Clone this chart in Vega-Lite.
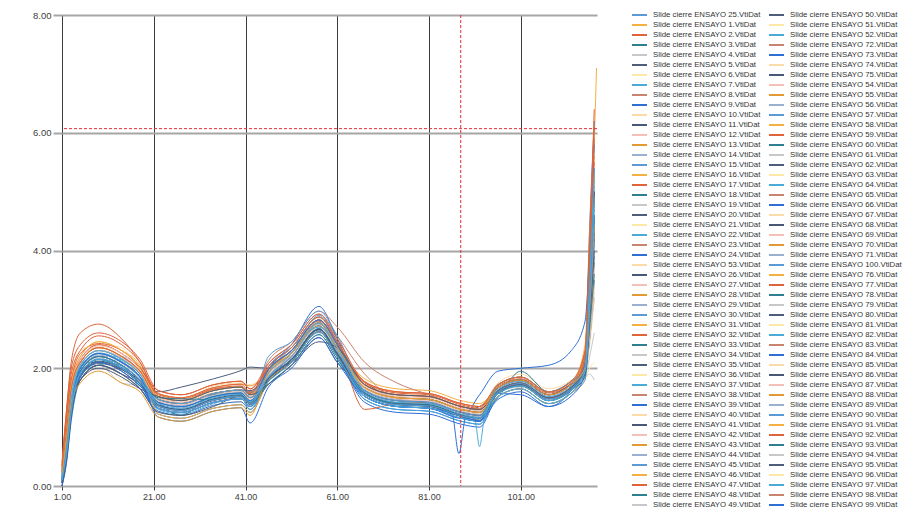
{
  "$schema": "https://vega.github.io/schema/vega-lite/v6.json",
  "width": 535,
  "height": 471,
  "autosize": "none",
  "padding": {"left": 62, "top": 15, "right": 314, "bottom": 30},
  "background": "#ffffff",
  "config": {
    "view": {"stroke": null},
    "font": "Liberation Sans",
    "axis": {"labelFont": "Liberation Sans", "labelColor": "#404040"},
    "legend": {"labelFont": "Liberation Sans"}
  },
  "datasets": {
    "a": [
      {"s":"25","x":1,"y":0.2},{"s":"25","x":2,"y":0.8},{"s":"25","x":3,"y":1.5},{"s":"25","x":5,"y":2.05},{"s":"25","x":9,"y":2.3},{"s":"25","x":14,"y":2.17},{"s":"25","x":18,"y":1.9},{"s":"25","x":22,"y":1.42},{"s":"25","x":27,"y":1.37},{"s":"25","x":34,"y":1.5},{"s":"25","x":40,"y":1.6},{"s":"25","x":42,"y":1.58},{"s":"25","x":46,"y":1.98},{"s":"25","x":51,"y":2.3},{"s":"25","x":57,"y":2.82},{"s":"25","x":61,"y":2.4},{"s":"25","x":67,"y":1.62},{"s":"25","x":74,"y":1.47},{"s":"25","x":81,"y":1.4},{"s":"25","x":88,"y":1.27},{"s":"25","x":92,"y":1.2},{"s":"25","x":96,"y":1.67},{"s":"25","x":101,"y":1.8},{"s":"25","x":107,"y":1.55},{"s":"25","x":112,"y":1.73},{"s":"25","x":115,"y":2.0},{"s":"25","x":116,"y":3.4},{"s":"25","x":117,"y":5.2},
      {"s":"1","x":1,"y":0.3},{"s":"1","x":2,"y":1.0},{"s":"1","x":3,"y":1.7},{"s":"1","x":5,"y":2.2},{"s":"1","x":9,"y":2.45},{"s":"1","x":14,"y":2.3},{"s":"1","x":18,"y":2.05},{"s":"1","x":22,"y":1.32},{"s":"1","x":27,"y":1.25},{"s":"1","x":34,"y":1.42},{"s":"1","x":40,"y":1.5},{"s":"1","x":42,"y":1.35},{"s":"1","x":46,"y":1.93},{"s":"1","x":51,"y":2.25},{"s":"1","x":57,"y":2.77},{"s":"1","x":61,"y":2.35},{"s":"1","x":67,"y":1.72},{"s":"1","x":74,"y":1.55},{"s":"1","x":81,"y":1.52},{"s":"1","x":88,"y":1.35},{"s":"1","x":92,"y":1.3},{"s":"1","x":96,"y":1.62},{"s":"1","x":101,"y":1.75},{"s":"1","x":107,"y":1.5},{"s":"1","x":112,"y":1.68},{"s":"1","x":115,"y":2.1},{"s":"1","x":116,"y":3.6},{"s":"1","x":117.5,"y":7.1},
      {"s":"2","x":1,"y":0.35},{"s":"2","x":2,"y":1.3},{"s":"2","x":3,"y":2.1},{"s":"2","x":5,"y":2.6},{"s":"2","x":9,"y":2.75},{"s":"2","x":14,"y":2.5},{"s":"2","x":18,"y":2.1},{"s":"2","x":22,"y":1.52},{"s":"2","x":27,"y":1.45},{"s":"2","x":34,"y":1.64},{"s":"2","x":40,"y":1.68},{"s":"2","x":42,"y":1.57},{"s":"2","x":46,"y":2.03},{"s":"2","x":51,"y":2.35},{"s":"2","x":57,"y":2.87},{"s":"2","x":61,"y":2.45},{"s":"2","x":67,"y":1.67},{"s":"2","x":74,"y":1.5},{"s":"2","x":81,"y":1.47},{"s":"2","x":88,"y":1.3},{"s":"2","x":92,"y":1.25},{"s":"2","x":96,"y":1.72},{"s":"2","x":101,"y":1.85},{"s":"2","x":107,"y":1.6},{"s":"2","x":112,"y":1.78},{"s":"2","x":115,"y":2.0},{"s":"2","x":116,"y":2.8},{"s":"2","x":117,"y":4.5},
      {"s":"3","x":1,"y":0.1},{"s":"3","x":2,"y":0.6},{"s":"3","x":3,"y":1.3},{"s":"3","x":5,"y":2.1},{"s":"3","x":9,"y":2.1},{"s":"3","x":14,"y":2.05},{"s":"3","x":18,"y":1.65},{"s":"3","x":22,"y":1.37},{"s":"3","x":27,"y":1.3},{"s":"3","x":34,"y":1.47},{"s":"3","x":40,"y":1.53},{"s":"3","x":42,"y":1.4},{"s":"3","x":46,"y":1.78},{"s":"3","x":51,"y":2.1},{"s":"3","x":57,"y":2.62},{"s":"3","x":61,"y":2.2},{"s":"3","x":67,"y":1.57},{"s":"3","x":74,"y":1.4},{"s":"3","x":81,"y":1.37},{"s":"3","x":88,"y":1.2},{"s":"3","x":92,"y":1.15},{"s":"3","x":96,"y":1.62},{"s":"3","x":101,"y":1.75},{"s":"3","x":107,"y":1.5},{"s":"3","x":112,"y":1.68},{"s":"3","x":115,"y":1.9},{"s":"3","x":116,"y":2.6},{"s":"3","x":117,"y":3.8},
      {"s":"4","x":1,"y":0.25},{"s":"4","x":2,"y":0.8},{"s":"4","x":3,"y":1.4},{"s":"4","x":5,"y":2.0},{"s":"4","x":9,"y":2.05},{"s":"4","x":14,"y":1.75},{"s":"4","x":18,"y":1.7},{"s":"4","x":22,"y":1.47},{"s":"4","x":27,"y":1.4},{"s":"4","x":34,"y":1.57},{"s":"4","x":40,"y":1.63},{"s":"4","x":42,"y":1.5},{"s":"4","x":46,"y":1.88},{"s":"4","x":51,"y":2.2},{"s":"4","x":57,"y":2.72},{"s":"4","x":61,"y":2.3},{"s":"4","x":67,"y":1.72},{"s":"4","x":74,"y":1.55},{"s":"4","x":81,"y":1.52},{"s":"4","x":88,"y":1.35},{"s":"4","x":92,"y":1.3},{"s":"4","x":96,"y":1.57},{"s":"4","x":101,"y":1.7},{"s":"4","x":107,"y":1.45},{"s":"4","x":112,"y":1.63},{"s":"4","x":115,"y":1.85},{"s":"4","x":116,"y":1.9},{"s":"4","x":117,"y":1.8},
      {"s":"5","x":1,"y":0.1},{"s":"5","x":2,"y":0.5},{"s":"5","x":3,"y":1.2},{"s":"5","x":5,"y":1.85},{"s":"5","x":9,"y":2.1},{"s":"5","x":14,"y":1.95},{"s":"5","x":18,"y":1.7},{"s":"5","x":22,"y":1.42},{"s":"5","x":27,"y":1.35},{"s":"5","x":34,"y":1.52},{"s":"5","x":40,"y":1.58},{"s":"5","x":42,"y":1.45},{"s":"5","x":46,"y":1.83},{"s":"5","x":51,"y":2.15},{"s":"5","x":57,"y":2.67},{"s":"5","x":61,"y":2.25},{"s":"5","x":67,"y":1.77},{"s":"5","x":74,"y":1.48},{"s":"5","x":81,"y":1.42},{"s":"5","x":88,"y":1.28},{"s":"5","x":92,"y":1.35},{"s":"5","x":96,"y":1.67},{"s":"5","x":101,"y":1.8},{"s":"5","x":107,"y":1.55},{"s":"5","x":112,"y":1.73},{"s":"5","x":115,"y":2.0},{"s":"5","x":116,"y":3.6},{"s":"5","x":117,"y":5.0},
      {"s":"6","x":1,"y":0.3},{"s":"6","x":2,"y":0.9},{"s":"6","x":3,"y":1.6},{"s":"6","x":5,"y":2.1},{"s":"6","x":9,"y":2.35},{"s":"6","x":14,"y":1.8},{"s":"6","x":18,"y":1.78},{"s":"6","x":22,"y":1.27},{"s":"6","x":27,"y":1.2},{"s":"6","x":34,"y":1.37},{"s":"6","x":40,"y":1.43},{"s":"6","x":42,"y":1.3},{"s":"6","x":46,"y":1.98},{"s":"6","x":51,"y":2.3},{"s":"6","x":57,"y":2.82},{"s":"6","x":61,"y":2.4},{"s":"6","x":67,"y":1.62},{"s":"6","x":74,"y":1.45},{"s":"6","x":81,"y":1.42},{"s":"6","x":88,"y":1.25},{"s":"6","x":92,"y":1.2},{"s":"6","x":96,"y":1.52},{"s":"6","x":101,"y":1.65},{"s":"6","x":107,"y":1.4},{"s":"6","x":112,"y":1.58},{"s":"6","x":115,"y":1.8},{"s":"6","x":116,"y":2.0},{"s":"6","x":117,"y":2.1},
      {"s":"7","x":1,"y":0.05},{"s":"7","x":2,"y":0.5},{"s":"7","x":3,"y":1.3},{"s":"7","x":5,"y":1.95},{"s":"7","x":9,"y":2.05},{"s":"7","x":14,"y":2.15},{"s":"7","x":18,"y":1.95},{"s":"7","x":22,"y":1.32},{"s":"7","x":27,"y":1.25},{"s":"7","x":34,"y":1.42},{"s":"7","x":40,"y":1.48},{"s":"7","x":42,"y":1.35},{"s":"7","x":46,"y":1.73},{"s":"7","x":51,"y":2.05},{"s":"7","x":57,"y":2.57},{"s":"7","x":61,"y":2.15},{"s":"7","x":67,"y":1.52},{"s":"7","x":74,"y":1.35},{"s":"7","x":81,"y":1.32},{"s":"7","x":88,"y":1.15},{"s":"7","x":92,"y":1.1},{"s":"7","x":96,"y":1.67},{"s":"7","x":101,"y":1.8},{"s":"7","x":107,"y":1.55},{"s":"7","x":112,"y":1.73},{"s":"7","x":115,"y":2.1},{"s":"7","x":116,"y":3.2},{"s":"7","x":117,"y":4.6},
      {"s":"8","x":1,"y":0.2},{"s":"8","x":2,"y":0.9},{"s":"8","x":3,"y":1.6},{"s":"8","x":5,"y":2.15},{"s":"8","x":9,"y":2.4},{"s":"8","x":14,"y":2.25},{"s":"8","x":18,"y":2.0},{"s":"8","x":22,"y":1.52},{"s":"8","x":27,"y":1.45},{"s":"8","x":34,"y":1.62},{"s":"8","x":40,"y":1.68},{"s":"8","x":42,"y":1.55},{"s":"8","x":46,"y":2.08},{"s":"8","x":51,"y":2.4},{"s":"8","x":57,"y":2.92},{"s":"8","x":61,"y":2.55},{"s":"8","x":67,"y":1.9},{"s":"8","x":74,"y":1.5},{"s":"8","x":81,"y":1.47},{"s":"8","x":88,"y":1.3},{"s":"8","x":92,"y":1.25},{"s":"8","x":96,"y":1.62},{"s":"8","x":101,"y":1.75},{"s":"8","x":107,"y":1.5},{"s":"8","x":112,"y":1.68},{"s":"8","x":115,"y":2.0},{"s":"8","x":116,"y":3.0},{"s":"8","x":117,"y":4.2},
      {"s":"9","x":1,"y":0.0},{"s":"9","x":2,"y":0.4},{"s":"9","x":3,"y":1.1},{"s":"9","x":5,"y":1.8},{"s":"9","x":9,"y":2.05},{"s":"9","x":14,"y":1.9},{"s":"9","x":18,"y":1.65},{"s":"9","x":22,"y":1.27},{"s":"9","x":27,"y":1.2},{"s":"9","x":34,"y":1.37},{"s":"9","x":40,"y":1.43},{"s":"9","x":42,"y":1.3},{"s":"9","x":46,"y":1.78},{"s":"9","x":51,"y":2.1},{"s":"9","x":57,"y":2.62},{"s":"9","x":61,"y":2.2},{"s":"9","x":67,"y":1.47},{"s":"9","x":74,"y":1.3},{"s":"9","x":81,"y":1.27},{"s":"9","x":88,"y":1.1},{"s":"9","x":92,"y":1.05},{"s":"9","x":96,"y":1.57},{"s":"9","x":101,"y":1.7},{"s":"9","x":107,"y":1.45},{"s":"9","x":112,"y":1.63},{"s":"9","x":115,"y":2.2},{"s":"9","x":116,"y":4.4},{"s":"9","x":117,"y":6.2},
      {"s":"10","x":1,"y":0.3},{"s":"10","x":2,"y":1.1},{"s":"10","x":3,"y":1.8},{"s":"10","x":5,"y":2.3},{"s":"10","x":9,"y":2.4},{"s":"10","x":14,"y":2.35},{"s":"10","x":18,"y":1.95},{"s":"10","x":22,"y":1.55},{"s":"10","x":27,"y":1.45},{"s":"10","x":34,"y":1.7},{"s":"10","x":40,"y":1.75},{"s":"10","x":42,"y":1.72},{"s":"10","x":46,"y":1.95},{"s":"10","x":51,"y":2.35},{"s":"10","x":57,"y":2.85},{"s":"10","x":61,"y":2.5},{"s":"10","x":67,"y":1.75},{"s":"10","x":74,"y":1.6},{"s":"10","x":81,"y":1.5},{"s":"10","x":88,"y":1.4},{"s":"10","x":92,"y":1.35},{"s":"10","x":96,"y":1.75},{"s":"10","x":101,"y":1.9},{"s":"10","x":107,"y":1.65},{"s":"10","x":112,"y":1.8},{"s":"10","x":115,"y":2.0},{"s":"10","x":116,"y":2.4},{"s":"10","x":117,"y":3.2},
      {"s":"12","x":1,"y":0.2},{"s":"12","x":2,"y":0.8},{"s":"12","x":3,"y":1.5},{"s":"12","x":5,"y":2.05},{"s":"12","x":9,"y":2.3},{"s":"12","x":14,"y":2.15},{"s":"12","x":18,"y":1.9},{"s":"12","x":22,"y":1.47},{"s":"12","x":27,"y":1.4},{"s":"12","x":34,"y":1.57},{"s":"12","x":40,"y":1.6},{"s":"12","x":42,"y":1.62},{"s":"12","x":46,"y":1.83},{"s":"12","x":51,"y":2.15},{"s":"12","x":57,"y":2.67},{"s":"12","x":61,"y":2.25},{"s":"12","x":67,"y":1.67},{"s":"12","x":74,"y":1.5},{"s":"12","x":81,"y":1.47},{"s":"12","x":88,"y":1.3},{"s":"12","x":92,"y":1.25},{"s":"12","x":96,"y":1.67},{"s":"12","x":101,"y":1.8},{"s":"12","x":107,"y":1.55},{"s":"12","x":112,"y":1.73},{"s":"12","x":115,"y":1.9},{"s":"12","x":116,"y":2.5},{"s":"12","x":117,"y":3.3},
      {"s":"13","x":1,"y":0.25},{"s":"13","x":2,"y":1.0},{"s":"13","x":3,"y":1.7},{"s":"13","x":5,"y":2.1},{"s":"13","x":9,"y":2.35},{"s":"13","x":14,"y":2.2},{"s":"13","x":18,"y":1.95},{"s":"13","x":22,"y":1.57},{"s":"13","x":27,"y":1.5},{"s":"13","x":34,"y":1.67},{"s":"13","x":40,"y":1.73},{"s":"13","x":42,"y":1.7},{"s":"13","x":46,"y":1.93},{"s":"13","x":51,"y":2.25},{"s":"13","x":57,"y":2.77},{"s":"13","x":61,"y":2.35},{"s":"13","x":67,"y":1.72},{"s":"13","x":74,"y":1.55},{"s":"13","x":81,"y":1.52},{"s":"13","x":88,"y":1.35},{"s":"13","x":92,"y":1.3},{"s":"13","x":96,"y":1.72},{"s":"13","x":101,"y":1.85},{"s":"13","x":107,"y":1.6},{"s":"13","x":112,"y":1.78},{"s":"13","x":115,"y":2.1},{"s":"13","x":116,"y":3.8},{"s":"13","x":117,"y":5.6},
      {"s":"14","x":1,"y":0.15},{"s":"14","x":2,"y":0.75},{"s":"14","x":3,"y":1.45},{"s":"14","x":5,"y":2.05},{"s":"14","x":9,"y":2.2},{"s":"14","x":14,"y":2.2},{"s":"14","x":18,"y":1.9},{"s":"14","x":22,"y":1.45},{"s":"14","x":27,"y":1.33},{"s":"14","x":34,"y":1.55},{"s":"14","x":40,"y":1.62},{"s":"14","x":42,"y":1.5},{"s":"14","x":46,"y":1.95},{"s":"14","x":51,"y":2.28},{"s":"14","x":57,"y":2.65},{"s":"14","x":61,"y":2.35},{"s":"14","x":67,"y":1.65},{"s":"14","x":74,"y":1.42},{"s":"14","x":81,"y":1.38},{"s":"14","x":88,"y":1.22},{"s":"14","x":92,"y":1.18},{"s":"14","x":96,"y":1.6},{"s":"14","x":101,"y":1.72},{"s":"14","x":107,"y":1.48},{"s":"14","x":112,"y":1.7},{"s":"14","x":115,"y":2.05},{"s":"14","x":116,"y":3.2},{"s":"14","x":117,"y":4.3},
      {"s":"15","x":1,"y":0.1},{"s":"15","x":2,"y":0.6},{"s":"15","x":3,"y":1.3},{"s":"15","x":5,"y":1.9},{"s":"15","x":9,"y":2.15},{"s":"15","x":14,"y":2.0},{"s":"15","x":18,"y":1.75},{"s":"15","x":22,"y":1.37},{"s":"15","x":27,"y":1.3},{"s":"15","x":34,"y":1.47},{"s":"15","x":40,"y":1.53},{"s":"15","x":42,"y":1.4},{"s":"15","x":46,"y":2.03},{"s":"15","x":51,"y":2.35},{"s":"15","x":57,"y":2.87},{"s":"15","x":61,"y":2.45},{"s":"15","x":67,"y":1.57},{"s":"15","x":74,"y":1.4},{"s":"15","x":81,"y":1.37},{"s":"15","x":88,"y":1.2},{"s":"15","x":92,"y":1.15},{"s":"15","x":96,"y":1.52},{"s":"15","x":101,"y":1.65},{"s":"15","x":107,"y":1.4},{"s":"15","x":112,"y":1.58},{"s":"15","x":115,"y":1.8},{"s":"15","x":116,"y":2.9},{"s":"15","x":117,"y":4.1},
      {"s":"17","x":1,"y":0.3},{"s":"17","x":2,"y":1.1},{"s":"17","x":3,"y":1.8},{"s":"17","x":5,"y":2.15},{"s":"17","x":9,"y":2.4},{"s":"17","x":14,"y":2.25},{"s":"17","x":18,"y":2.0},{"s":"17","x":22,"y":1.62},{"s":"17","x":27,"y":1.55},{"s":"17","x":34,"y":1.72},{"s":"17","x":40,"y":1.78},{"s":"17","x":42,"y":1.65},{"s":"17","x":46,"y":1.98},{"s":"17","x":51,"y":2.3},{"s":"17","x":57,"y":2.82},{"s":"17","x":61,"y":2.4},{"s":"17","x":67,"y":1.77},{"s":"17","x":74,"y":1.6},{"s":"17","x":81,"y":1.57},{"s":"17","x":88,"y":1.4},{"s":"17","x":92,"y":1.35},{"s":"17","x":96,"y":1.67},{"s":"17","x":101,"y":1.8},{"s":"17","x":107,"y":1.55},{"s":"17","x":112,"y":1.73},{"s":"17","x":115,"y":2.3},{"s":"17","x":116,"y":4.0},{"s":"17","x":117,"y":5.5},
      {"s":"18","x":1,"y":0.15},{"s":"18","x":2,"y":0.7},{"s":"18","x":3,"y":1.4},{"s":"18","x":5,"y":2.0},{"s":"18","x":9,"y":2.25},{"s":"18","x":14,"y":2.1},{"s":"18","x":18,"y":1.85},{"s":"18","x":22,"y":1.37},{"s":"18","x":27,"y":1.3},{"s":"18","x":34,"y":1.47},{"s":"18","x":40,"y":1.53},{"s":"18","x":42,"y":1.55},{"s":"18","x":46,"y":1.88},{"s":"18","x":51,"y":2.2},{"s":"18","x":57,"y":2.72},{"s":"18","x":61,"y":2.3},{"s":"18","x":67,"y":1.57},{"s":"18","x":74,"y":1.4},{"s":"18","x":81,"y":1.37},{"s":"18","x":88,"y":1.2},{"s":"18","x":92,"y":1.15},{"s":"18","x":96,"y":1.62},{"s":"18","x":101,"y":1.75},{"s":"18","x":107,"y":1.5},{"s":"18","x":112,"y":1.68},{"s":"18","x":115,"y":1.9},{"s":"18","x":116,"y":3.1},{"s":"18","x":117,"y":4.4},
      {"s":"19","x":1,"y":0.2},{"s":"19","x":2,"y":0.7},{"s":"19","x":3,"y":1.35},{"s":"19","x":5,"y":1.95},{"s":"19","x":9,"y":2.18},{"s":"19","x":14,"y":2.0},{"s":"19","x":18,"y":1.8},{"s":"19","x":22,"y":1.5},{"s":"19","x":27,"y":1.42},{"s":"19","x":34,"y":1.55},{"s":"19","x":40,"y":1.55},{"s":"19","x":42,"y":1.52},{"s":"19","x":46,"y":1.85},{"s":"19","x":51,"y":2.15},{"s":"19","x":57,"y":2.6},{"s":"19","x":61,"y":2.28},{"s":"19","x":67,"y":1.7},{"s":"19","x":74,"y":1.52},{"s":"19","x":81,"y":1.45},{"s":"19","x":88,"y":1.32},{"s":"19","x":92,"y":1.28},{"s":"19","x":96,"y":1.58},{"s":"19","x":101,"y":1.68},{"s":"19","x":107,"y":1.5},{"s":"19","x":112,"y":1.65},{"s":"19","x":115,"y":1.85},{"s":"19","x":116,"y":2.2},{"s":"19","x":117,"y":2.6},
      {"s":"20","x":1,"y":0.1},{"s":"20","x":2,"y":0.6},{"s":"20","x":3,"y":1.3},{"s":"20","x":5,"y":1.8},{"s":"20","x":9,"y":2.05},{"s":"20","x":14,"y":1.9},{"s":"20","x":18,"y":1.75},{"s":"20","x":22,"y":1.6},{"s":"20","x":27,"y":1.68},{"s":"20","x":34,"y":1.82},{"s":"20","x":40,"y":1.96},{"s":"20","x":42,"y":2.02},{"s":"20","x":46,"y":2.0},{"s":"20","x":51,"y":2.1},{"s":"20","x":57,"y":2.52},{"s":"20","x":61,"y":2.1},{"s":"20","x":67,"y":1.67},{"s":"20","x":74,"y":1.5},{"s":"20","x":81,"y":1.47},{"s":"20","x":88,"y":1.3},{"s":"20","x":92,"y":1.25},{"s":"20","x":96,"y":1.62},{"s":"20","x":101,"y":1.75},{"s":"20","x":107,"y":1.5},{"s":"20","x":112,"y":1.68},{"s":"20","x":115,"y":2.0},{"s":"20","x":116,"y":2.5},{"s":"20","x":117,"y":3.5},
      {"s":"22","x":1,"y":0.05},{"s":"22","x":2,"y":0.45},{"s":"22","x":3,"y":1.15},{"s":"22","x":5,"y":1.85},{"s":"22","x":9,"y":2.12},{"s":"22","x":14,"y":2.02},{"s":"22","x":18,"y":1.72},{"s":"22","x":22,"y":1.3},{"s":"22","x":27,"y":1.22},{"s":"22","x":34,"y":1.4},{"s":"22","x":40,"y":1.5},{"s":"22","x":42,"y":1.3},{"s":"22","x":46,"y":1.9},{"s":"22","x":51,"y":2.25},{"s":"22","x":57,"y":2.9},{"s":"22","x":61,"y":2.45},{"s":"22","x":67,"y":1.58},{"s":"22","x":74,"y":1.38},{"s":"22","x":81,"y":1.35},{"s":"22","x":88,"y":1.18},{"s":"22","x":92,"y":1.1},{"s":"22","x":96,"y":1.6},{"s":"22","x":101,"y":1.78},{"s":"22","x":107,"y":1.45},{"s":"22","x":112,"y":1.62},{"s":"22","x":115,"y":2.05},{"s":"22","x":116,"y":3.7},{"s":"22","x":117,"y":5.3},
      {"s":"24","x":1,"y":0.05},{"s":"24","x":2,"y":0.5},{"s":"24","x":3,"y":1.2},{"s":"24","x":5,"y":1.9},{"s":"24","x":9,"y":2.15},{"s":"24","x":14,"y":2.0},{"s":"24","x":18,"y":1.75},{"s":"24","x":22,"y":1.22},{"s":"24","x":27,"y":1.15},{"s":"24","x":34,"y":1.32},{"s":"24","x":40,"y":1.38},{"s":"24","x":42,"y":1.25},{"s":"24","x":46,"y":1.78},{"s":"24","x":51,"y":2.1},{"s":"24","x":57,"y":2.62},{"s":"24","x":61,"y":2.2},{"s":"24","x":67,"y":1.42},{"s":"24","x":74,"y":1.25},{"s":"24","x":81,"y":1.22},{"s":"24","x":88,"y":1.05},{"s":"24","x":92,"y":1.0},{"s":"24","x":96,"y":1.52},{"s":"24","x":101,"y":1.65},{"s":"24","x":107,"y":1.4},{"s":"24","x":112,"y":1.58},{"s":"24","x":115,"y":2.0},{"s":"24","x":116,"y":3.3},{"s":"24","x":117,"y":4.8},
      {"s":"27","x":1,"y":0.3},{"s":"27","x":2,"y":0.95},{"s":"27","x":3,"y":1.65},{"s":"27","x":5,"y":2.15},{"s":"27","x":9,"y":2.38},{"s":"27","x":14,"y":2.25},{"s":"27","x":18,"y":1.98},{"s":"27","x":22,"y":1.5},{"s":"27","x":27,"y":1.42},{"s":"27","x":34,"y":1.58},{"s":"27","x":40,"y":1.6},{"s":"27","x":42,"y":1.55},{"s":"27","x":46,"y":1.92},{"s":"27","x":51,"y":2.22},{"s":"27","x":57,"y":2.7},{"s":"27","x":61,"y":2.3},{"s":"27","x":67,"y":1.7},{"s":"27","x":74,"y":1.52},{"s":"27","x":81,"y":1.5},{"s":"27","x":88,"y":1.32},{"s":"27","x":92,"y":1.28},{"s":"27","x":96,"y":1.7},{"s":"27","x":101,"y":1.82},{"s":"27","x":107,"y":1.58},{"s":"27","x":112,"y":1.72},{"s":"27","x":115,"y":1.95},{"s":"27","x":116,"y":2.6},{"s":"27","x":117,"y":3.4},
      {"s":"31","x":1,"y":0.2},{"s":"31","x":2,"y":0.9},{"s":"31","x":3,"y":1.6},{"s":"31","x":5,"y":2.05},{"s":"31","x":9,"y":2.3},{"s":"31","x":14,"y":2.15},{"s":"31","x":18,"y":1.9},{"s":"31","x":22,"y":1.52},{"s":"31","x":27,"y":1.45},{"s":"31","x":34,"y":1.62},{"s":"31","x":40,"y":1.68},{"s":"31","x":42,"y":1.55},{"s":"31","x":46,"y":1.93},{"s":"31","x":51,"y":2.25},{"s":"31","x":57,"y":2.77},{"s":"31","x":61,"y":2.35},{"s":"31","x":67,"y":1.82},{"s":"31","x":74,"y":1.65},{"s":"31","x":81,"y":1.62},{"s":"31","x":88,"y":1.45},{"s":"31","x":92,"y":1.4},{"s":"31","x":96,"y":1.67},{"s":"31","x":101,"y":1.8},{"s":"31","x":107,"y":1.55},{"s":"31","x":112,"y":1.73},{"s":"31","x":115,"y":2.4},{"s":"31","x":116,"y":4.3},{"s":"31","x":117,"y":6.0},
      {"s":"33","x":1,"y":0.1},{"s":"33","x":2,"y":0.6},{"s":"33","x":3,"y":1.3},{"s":"33","x":5,"y":1.95},{"s":"33","x":9,"y":2.2},{"s":"33","x":14,"y":2.05},{"s":"33","x":18,"y":1.8},{"s":"33","x":22,"y":1.42},{"s":"33","x":27,"y":1.35},{"s":"33","x":34,"y":1.52},{"s":"33","x":40,"y":1.58},{"s":"33","x":42,"y":1.45},{"s":"33","x":46,"y":1.83},{"s":"33","x":51,"y":2.15},{"s":"33","x":57,"y":2.67},{"s":"33","x":61,"y":2.25},{"s":"33","x":67,"y":1.62},{"s":"33","x":74,"y":1.45},{"s":"33","x":81,"y":1.42},{"s":"33","x":88,"y":1.25},{"s":"33","x":92,"y":1.2},{"s":"33","x":96,"y":1.5},{"s":"33","x":101,"y":1.95},{"s":"33","x":107,"y":1.6},{"s":"33","x":112,"y":1.78},{"s":"33","x":115,"y":2.0},{"s":"33","x":116,"y":2.7},{"s":"33","x":117,"y":3.9},
      {"s":"35","x":1,"y":0.0},{"s":"35","x":2,"y":0.45},{"s":"35","x":3,"y":1.2},{"s":"35","x":5,"y":1.9},{"s":"35","x":9,"y":2.08},{"s":"35","x":14,"y":1.98},{"s":"35","x":18,"y":1.78},{"s":"35","x":22,"y":1.35},{"s":"35","x":27,"y":1.28},{"s":"35","x":34,"y":1.45},{"s":"35","x":40,"y":1.52},{"s":"35","x":42,"y":1.38},{"s":"35","x":46,"y":1.8},{"s":"35","x":51,"y":2.12},{"s":"35","x":57,"y":2.65},{"s":"35","x":61,"y":2.22},{"s":"35","x":67,"y":1.55},{"s":"35","x":74,"y":1.38},{"s":"35","x":81,"y":1.35},{"s":"35","x":88,"y":1.18},{"s":"35","x":92,"y":1.12},{"s":"35","x":96,"y":1.58},{"s":"35","x":101,"y":1.72},{"s":"35","x":107,"y":1.48},{"s":"35","x":112,"y":1.65},{"s":"35","x":115,"y":1.95},{"s":"35","x":116,"y":3.0},{"s":"35","x":117,"y":4.6},
      {"s":"39","x":1,"y":0.0},{"s":"39","x":2,"y":0.5},{"s":"39","x":3,"y":1.2},{"s":"39","x":5,"y":1.85},{"s":"39","x":9,"y":2.1},{"s":"39","x":14,"y":1.95},{"s":"39","x":18,"y":1.7},{"s":"39","x":22,"y":1.32},{"s":"39","x":27,"y":1.25},{"s":"39","x":34,"y":1.42},{"s":"39","x":40,"y":1.48},{"s":"39","x":42,"y":1.35},{"s":"39","x":46,"y":1.98},{"s":"39","x":51,"y":2.4},{"s":"39","x":57,"y":3.05},{"s":"39","x":61,"y":2.5},{"s":"39","x":67,"y":1.52},{"s":"39","x":74,"y":1.35},{"s":"39","x":81,"y":1.32},{"s":"39","x":88,"y":1.15},{"s":"39","x":92,"y":1.55},{"s":"39","x":96,"y":1.95},{"s":"39","x":101,"y":2.0},{"s":"39","x":107,"y":2.05},{"s":"39","x":112,"y":2.3},{"s":"39","x":115,"y":2.8},{"s":"39","x":116,"y":4.0},{"s":"39","x":117,"y":5.8},
      {"s":"44","x":1,"y":0.12},{"s":"44","x":2,"y":0.62},{"s":"44","x":3,"y":1.32},{"s":"44","x":5,"y":1.98},{"s":"44","x":9,"y":2.22},{"s":"44","x":14,"y":2.12},{"s":"44","x":18,"y":1.82},{"s":"44","x":22,"y":1.4},{"s":"44","x":27,"y":1.3},{"s":"44","x":34,"y":1.5},{"s":"44","x":40,"y":1.55},{"s":"44","x":42,"y":1.42},{"s":"44","x":46,"y":1.86},{"s":"44","x":51,"y":2.18},{"s":"44","x":57,"y":2.75},{"s":"44","x":61,"y":2.32},{"s":"44","x":67,"y":1.6},{"s":"44","x":74,"y":1.42},{"s":"44","x":81,"y":1.4},{"s":"44","x":88,"y":1.22},{"s":"44","x":92,"y":1.17},{"s":"44","x":96,"y":1.64},{"s":"44","x":101,"y":1.78},{"s":"44","x":107,"y":1.52},{"s":"44","x":112,"y":1.7},{"s":"44","x":115,"y":2.0},{"s":"44","x":116,"y":3.3},{"s":"44","x":117,"y":4.9},
      {"s":"47","x":1,"y":0.3},{"s":"47","x":2,"y":1.05},{"s":"47","x":3,"y":1.75},{"s":"47","x":5,"y":2.25},{"s":"47","x":9,"y":2.42},{"s":"47","x":14,"y":2.3},{"s":"47","x":18,"y":2.02},{"s":"47","x":22,"y":1.55},{"s":"47","x":27,"y":1.48},{"s":"47","x":34,"y":1.65},{"s":"47","x":40,"y":1.7},{"s":"47","x":42,"y":1.58},{"s":"47","x":46,"y":2.0},{"s":"47","x":51,"y":2.3},{"s":"47","x":57,"y":2.8},{"s":"47","x":61,"y":2.42},{"s":"47","x":67,"y":1.75},{"s":"47","x":74,"y":1.58},{"s":"47","x":81,"y":1.55},{"s":"47","x":88,"y":1.38},{"s":"47","x":92,"y":1.32},{"s":"47","x":96,"y":1.7},{"s":"47","x":101,"y":1.82},{"s":"47","x":107,"y":1.58},{"s":"47","x":112,"y":1.75},{"s":"47","x":115,"y":2.25},{"s":"47","x":116,"y":4.2},{"s":"47","x":117,"y":6.1}
    ],
    "b": [
      {"s":"50","x":1,"y":0.15},{"s":"50","x":2,"y":0.7},{"s":"50","x":3,"y":1.4},{"s":"50","x":5,"y":1.95},{"s":"50","x":9,"y":2.2},{"s":"50","x":14,"y":2.05},{"s":"50","x":18,"y":1.8},{"s":"50","x":22,"y":1.47},{"s":"50","x":27,"y":1.4},{"s":"50","x":34,"y":1.57},{"s":"50","x":40,"y":1.63},{"s":"50","x":42,"y":1.62},{"s":"50","x":46,"y":1.88},{"s":"50","x":51,"y":2.2},{"s":"50","x":57,"y":2.72},{"s":"50","x":61,"y":2.3},{"s":"50","x":67,"y":1.67},{"s":"50","x":74,"y":1.5},{"s":"50","x":81,"y":1.47},{"s":"50","x":88,"y":1.3},{"s":"50","x":92,"y":1.25},{"s":"50","x":96,"y":1.62},{"s":"50","x":101,"y":1.75},{"s":"50","x":107,"y":1.5},{"s":"50","x":112,"y":1.68},{"s":"50","x":115,"y":1.9},{"s":"50","x":116,"y":3.0},{"s":"50","x":117,"y":4.3},
      {"s":"52","x":1,"y":0.2},{"s":"52","x":2,"y":0.8},{"s":"52","x":3,"y":1.5},{"s":"52","x":5,"y":2.05},{"s":"52","x":9,"y":2.3},{"s":"52","x":14,"y":2.15},{"s":"52","x":18,"y":1.9},{"s":"52","x":22,"y":1.37},{"s":"52","x":27,"y":1.3},{"s":"52","x":34,"y":1.47},{"s":"52","x":40,"y":1.53},{"s":"52","x":42,"y":1.4},{"s":"52","x":46,"y":1.98},{"s":"52","x":51,"y":2.3},{"s":"52","x":57,"y":2.82},{"s":"52","x":61,"y":2.4},{"s":"52","x":67,"y":1.57},{"s":"52","x":74,"y":1.4},{"s":"52","x":81,"y":1.37},{"s":"52","x":88,"y":1.2},{"s":"52","x":92,"y":1.15},{"s":"52","x":96,"y":1.67},{"s":"52","x":101,"y":1.8},{"s":"52","x":107,"y":1.55},{"s":"52","x":112,"y":1.73},{"s":"52","x":115,"y":2.0},{"s":"52","x":116,"y":3.5},{"s":"52","x":117,"y":5.1},
      {"s":"72","x":1,"y":0.25},{"s":"72","x":2,"y":0.9},{"s":"72","x":3,"y":1.6},{"s":"72","x":5,"y":2.1},{"s":"72","x":9,"y":2.35},{"s":"72","x":14,"y":2.2},{"s":"72","x":18,"y":1.95},{"s":"72","x":22,"y":1.47},{"s":"72","x":27,"y":1.4},{"s":"72","x":34,"y":1.57},{"s":"72","x":40,"y":1.63},{"s":"72","x":42,"y":1.5},{"s":"72","x":46,"y":2.13},{"s":"72","x":51,"y":2.45},{"s":"72","x":57,"y":2.97},{"s":"72","x":61,"y":2.7},{"s":"72","x":67,"y":2.1},{"s":"72","x":74,"y":1.75},{"s":"72","x":81,"y":1.55},{"s":"72","x":88,"y":1.35},{"s":"72","x":92,"y":1.3},{"s":"72","x":96,"y":1.62},{"s":"72","x":101,"y":1.75},{"s":"72","x":107,"y":1.5},{"s":"72","x":112,"y":1.68},{"s":"72","x":115,"y":1.95},{"s":"72","x":116,"y":2.9},{"s":"72","x":117,"y":4.0},
      {"s":"73","x":1,"y":0.05},{"s":"73","x":2,"y":0.55},{"s":"73","x":3,"y":1.25},{"s":"73","x":5,"y":1.9},{"s":"73","x":9,"y":2.15},{"s":"73","x":14,"y":2.0},{"s":"73","x":18,"y":1.75},{"s":"73","x":22,"y":1.32},{"s":"73","x":27,"y":1.25},{"s":"73","x":34,"y":1.42},{"s":"73","x":40,"y":1.48},{"s":"73","x":42,"y":1.35},{"s":"73","x":46,"y":1.83},{"s":"73","x":51,"y":2.15},{"s":"73","x":57,"y":2.67},{"s":"73","x":61,"y":2.25},{"s":"73","x":67,"y":1.52},{"s":"73","x":74,"y":1.35},{"s":"73","x":81,"y":1.32},{"s":"73","x":88,"y":1.15},{"s":"73","x":92,"y":1.1},{"s":"73","x":96,"y":1.57},{"s":"73","x":101,"y":1.55},{"s":"73","x":107,"y":1.35},{"s":"73","x":112,"y":1.63},{"s":"73","x":115,"y":2.1},{"s":"73","x":116,"y":3.9},{"s":"73","x":117,"y":5.4},
      {"s":"54","x":1,"y":0.22},{"s":"54","x":2,"y":0.82},{"s":"54","x":3,"y":1.52},{"s":"54","x":5,"y":2.08},{"s":"54","x":9,"y":2.3},{"s":"54","x":14,"y":2.18},{"s":"54","x":18,"y":1.92},{"s":"54","x":22,"y":1.45},{"s":"54","x":27,"y":1.38},{"s":"54","x":34,"y":1.55},{"s":"54","x":40,"y":1.6},{"s":"54","x":42,"y":1.48},{"s":"54","x":46,"y":1.9},{"s":"54","x":51,"y":2.2},{"s":"54","x":57,"y":2.7},{"s":"54","x":61,"y":2.32},{"s":"54","x":67,"y":1.66},{"s":"54","x":74,"y":1.48},{"s":"54","x":81,"y":1.44},{"s":"54","x":88,"y":1.28},{"s":"54","x":92,"y":1.22},{"s":"54","x":96,"y":1.66},{"s":"54","x":101,"y":1.78},{"s":"54","x":107,"y":1.52},{"s":"54","x":112,"y":1.7},{"s":"54","x":115,"y":1.92},{"s":"54","x":116,"y":2.7},{"s":"54","x":117,"y":3.7},
      {"s":"55","x":1,"y":0.25},{"s":"55","x":2,"y":0.95},{"s":"55","x":3,"y":1.65},{"s":"55","x":5,"y":2.1},{"s":"55","x":9,"y":2.35},{"s":"55","x":14,"y":2.2},{"s":"55","x":18,"y":1.95},{"s":"55","x":22,"y":1.52},{"s":"55","x":27,"y":1.45},{"s":"55","x":34,"y":1.62},{"s":"55","x":40,"y":1.68},{"s":"55","x":42,"y":1.55},{"s":"55","x":46,"y":1.88},{"s":"55","x":51,"y":2.2},{"s":"55","x":57,"y":2.72},{"s":"55","x":61,"y":2.3},{"s":"55","x":67,"y":1.72},{"s":"55","x":74,"y":1.55},{"s":"55","x":81,"y":1.52},{"s":"55","x":88,"y":1.35},{"s":"55","x":92,"y":1.3},{"s":"55","x":96,"y":1.72},{"s":"55","x":101,"y":1.85},{"s":"55","x":107,"y":1.6},{"s":"55","x":112,"y":1.78},{"s":"55","x":115,"y":2.2},{"s":"55","x":116,"y":3.7},{"s":"55","x":117,"y":5.3},
      {"s":"57","x":1,"y":0.15},{"s":"57","x":2,"y":0.7},{"s":"57","x":3,"y":1.4},{"s":"57","x":5,"y":2.0},{"s":"57","x":9,"y":2.25},{"s":"57","x":14,"y":2.1},{"s":"57","x":18,"y":1.85},{"s":"57","x":22,"y":1.47},{"s":"57","x":27,"y":1.4},{"s":"57","x":34,"y":1.57},{"s":"57","x":40,"y":1.63},{"s":"57","x":42,"y":1.6},{"s":"57","x":46,"y":1.85},{"s":"57","x":51,"y":2.25},{"s":"57","x":57,"y":2.77},{"s":"57","x":61,"y":2.35},{"s":"57","x":67,"y":1.62},{"s":"57","x":74,"y":1.45},{"s":"57","x":81,"y":1.42},{"s":"57","x":88,"y":1.25},{"s":"57","x":92,"y":1.2},{"s":"57","x":96,"y":1.67},{"s":"57","x":101,"y":1.8},{"s":"57","x":107,"y":1.55},{"s":"57","x":112,"y":1.73},{"s":"57","x":115,"y":2.0},{"s":"57","x":116,"y":3.3},{"s":"57","x":117,"y":4.7},
      {"s":"58","x":1,"y":0.3},{"s":"58","x":2,"y":1.0},{"s":"58","x":3,"y":1.7},{"s":"58","x":5,"y":2.2},{"s":"58","x":9,"y":2.45},{"s":"58","x":14,"y":2.3},{"s":"58","x":18,"y":2.0},{"s":"58","x":22,"y":1.22},{"s":"58","x":27,"y":1.15},{"s":"58","x":34,"y":1.32},{"s":"58","x":40,"y":1.38},{"s":"58","x":42,"y":1.25},{"s":"58","x":46,"y":1.78},{"s":"58","x":51,"y":2.1},{"s":"58","x":57,"y":2.62},{"s":"58","x":61,"y":2.2},{"s":"58","x":67,"y":1.67},{"s":"58","x":74,"y":1.5},{"s":"58","x":81,"y":1.47},{"s":"58","x":88,"y":1.3},{"s":"58","x":92,"y":1.25},{"s":"58","x":96,"y":1.52},{"s":"58","x":101,"y":1.65},{"s":"58","x":107,"y":1.4},{"s":"58","x":112,"y":1.58},{"s":"58","x":115,"y":1.9},{"s":"58","x":116,"y":2.6},{"s":"58","x":117,"y":3.6},
      {"s":"59","x":1,"y":0.25},{"s":"59","x":2,"y":0.95},{"s":"59","x":3,"y":1.65},{"s":"59","x":5,"y":2.1},{"s":"59","x":9,"y":2.35},{"s":"59","x":14,"y":2.2},{"s":"59","x":18,"y":1.95},{"s":"59","x":22,"y":1.47},{"s":"59","x":27,"y":1.4},{"s":"59","x":34,"y":1.57},{"s":"59","x":40,"y":1.63},{"s":"59","x":42,"y":1.5},{"s":"59","x":46,"y":1.98},{"s":"59","x":51,"y":2.3},{"s":"59","x":57,"y":2.82},{"s":"59","x":61,"y":2.4},{"s":"59","x":67,"y":1.3},{"s":"59","x":74,"y":1.4},{"s":"59","x":81,"y":1.42},{"s":"59","x":88,"y":1.25},{"s":"59","x":92,"y":1.2},{"s":"59","x":96,"y":1.67},{"s":"59","x":101,"y":1.8},{"s":"59","x":107,"y":1.55},{"s":"59","x":112,"y":1.73},{"s":"59","x":115,"y":2.1},{"s":"59","x":116,"y":3.4},{"s":"59","x":117,"y":4.9},
      {"s":"60","x":1,"y":0.1},{"s":"60","x":2,"y":0.6},{"s":"60","x":3,"y":1.3},{"s":"60","x":5,"y":1.9},{"s":"60","x":9,"y":2.15},{"s":"60","x":14,"y":2.0},{"s":"60","x":18,"y":1.75},{"s":"60","x":22,"y":1.42},{"s":"60","x":27,"y":1.2},{"s":"60","x":34,"y":1.55},{"s":"60","x":40,"y":1.58},{"s":"60","x":42,"y":1.45},{"s":"60","x":46,"y":1.83},{"s":"60","x":51,"y":2.15},{"s":"60","x":57,"y":2.67},{"s":"60","x":61,"y":2.25},{"s":"60","x":67,"y":1.57},{"s":"60","x":74,"y":1.4},{"s":"60","x":81,"y":1.37},{"s":"60","x":88,"y":1.2},{"s":"60","x":92,"y":1.15},{"s":"60","x":96,"y":1.62},{"s":"60","x":101,"y":1.75},{"s":"60","x":107,"y":1.5},{"s":"60","x":112,"y":1.68},{"s":"60","x":115,"y":1.95},{"s":"60","x":116,"y":3.0},{"s":"60","x":117,"y":4.4},
      {"s":"61","x":1,"y":0.18},{"s":"61","x":2,"y":0.72},{"s":"61","x":3,"y":1.42},{"s":"61","x":5,"y":2.02},{"s":"61","x":9,"y":2.24},{"s":"61","x":14,"y":2.08},{"s":"61","x":18,"y":1.84},{"s":"61","x":22,"y":1.44},{"s":"61","x":27,"y":1.36},{"s":"61","x":34,"y":1.54},{"s":"61","x":40,"y":1.6},{"s":"61","x":42,"y":1.46},{"s":"61","x":46,"y":1.88},{"s":"61","x":51,"y":2.2},{"s":"61","x":57,"y":2.7},{"s":"61","x":61,"y":2.3},{"s":"61","x":67,"y":1.64},{"s":"61","x":74,"y":1.46},{"s":"61","x":81,"y":1.43},{"s":"61","x":88,"y":1.27},{"s":"61","x":92,"y":1.22},{"s":"61","x":96,"y":1.63},{"s":"61","x":101,"y":1.76},{"s":"61","x":107,"y":1.51},{"s":"61","x":112,"y":1.69},{"s":"61","x":115,"y":1.93},{"s":"61","x":116,"y":2.5},{"s":"61","x":117,"y":3.2},
      {"s":"62","x":1,"y":0.05},{"s":"62","x":2,"y":0.5},{"s":"62","x":3,"y":1.2},{"s":"62","x":5,"y":1.8},{"s":"62","x":9,"y":2.05},{"s":"62","x":14,"y":1.9},{"s":"62","x":18,"y":1.65},{"s":"62","x":22,"y":1.25},{"s":"62","x":27,"y":1.2},{"s":"62","x":34,"y":1.35},{"s":"62","x":40,"y":1.53},{"s":"62","x":42,"y":1.4},{"s":"62","x":46,"y":1.78},{"s":"62","x":51,"y":2.1},{"s":"62","x":57,"y":2.62},{"s":"62","x":61,"y":2.2},{"s":"62","x":67,"y":1.62},{"s":"62","x":74,"y":1.45},{"s":"62","x":81,"y":1.42},{"s":"62","x":88,"y":1.25},{"s":"62","x":92,"y":1.2},{"s":"62","x":96,"y":1.67},{"s":"62","x":101,"y":1.8},{"s":"62","x":107,"y":1.55},{"s":"62","x":112,"y":1.73},{"s":"62","x":115,"y":1.9},{"s":"62","x":116,"y":2.8},{"s":"62","x":117,"y":4.0},
      {"s":"64","x":1,"y":0.2},{"s":"64","x":2,"y":0.8},{"s":"64","x":3,"y":1.5},{"s":"64","x":5,"y":2.05},{"s":"64","x":9,"y":2.3},{"s":"64","x":14,"y":2.15},{"s":"64","x":18,"y":1.9},{"s":"64","x":22,"y":1.32},{"s":"64","x":27,"y":1.25},{"s":"64","x":34,"y":1.42},{"s":"64","x":40,"y":1.48},{"s":"64","x":42,"y":1.35},{"s":"64","x":46,"y":1.93},{"s":"64","x":51,"y":2.35},{"s":"64","x":57,"y":2.7},{"s":"64","x":61,"y":2.35},{"s":"64","x":67,"y":1.47},{"s":"64","x":74,"y":1.3},{"s":"64","x":81,"y":1.27},{"s":"64","x":88,"y":1.1},{"s":"64","x":92,"y":1.05},{"s":"64","x":96,"y":1.52},{"s":"64","x":101,"y":1.65},{"s":"64","x":107,"y":1.4},{"s":"64","x":112,"y":1.58},{"s":"64","x":115,"y":2.0},{"s":"64","x":116,"y":3.2},{"s":"64","x":117,"y":4.5},
      {"s":"66","x":1,"y":0.1},{"s":"66","x":2,"y":0.65},{"s":"66","x":3,"y":1.35},{"s":"66","x":5,"y":2.0},{"s":"66","x":9,"y":2.25},{"s":"66","x":14,"y":2.1},{"s":"66","x":18,"y":1.85},{"s":"66","x":22,"y":1.42},{"s":"66","x":27,"y":1.35},{"s":"66","x":34,"y":1.52},{"s":"66","x":40,"y":1.58},{"s":"66","x":42,"y":1.45},{"s":"66","x":46,"y":1.98},{"s":"66","x":51,"y":2.3},{"s":"66","x":57,"y":2.82},{"s":"66","x":61,"y":2.4},{"s":"66","x":67,"y":1.52},{"s":"66","x":74,"y":1.35},{"s":"66","x":81,"y":1.32},{"s":"66","x":86,"y":1.22},{"s":"66","x":87.5,"y":0.55},{"s":"66","x":89,"y":1.15},{"s":"66","x":92,"y":1.1},{"s":"66","x":96,"y":1.62},{"s":"66","x":101,"y":1.75},{"s":"66","x":107,"y":1.5},{"s":"66","x":112,"y":1.68},{"s":"66","x":115,"y":2.05},{"s":"66","x":116,"y":3.6},{"s":"66","x":117,"y":5.0},
      {"s":"68","x":1,"y":0.08},{"s":"68","x":2,"y":0.55},{"s":"68","x":3,"y":1.25},{"s":"68","x":5,"y":1.88},{"s":"68","x":9,"y":2.12},{"s":"68","x":14,"y":1.98},{"s":"68","x":18,"y":1.74},{"s":"68","x":22,"y":1.38},{"s":"68","x":27,"y":1.3},{"s":"68","x":34,"y":1.48},{"s":"68","x":40,"y":1.55},{"s":"68","x":42,"y":1.42},{"s":"68","x":46,"y":1.82},{"s":"68","x":51,"y":2.14},{"s":"68","x":57,"y":2.66},{"s":"68","x":61,"y":2.24},{"s":"68","x":67,"y":1.58},{"s":"68","x":74,"y":1.41},{"s":"68","x":81,"y":1.38},{"s":"68","x":88,"y":1.21},{"s":"68","x":92,"y":1.16},{"s":"68","x":96,"y":1.6},{"s":"68","x":101,"y":1.73},{"s":"68","x":107,"y":1.48},{"s":"68","x":112,"y":1.66},{"s":"68","x":115,"y":1.98},{"s":"68","x":116,"y":3.4},{"s":"68","x":117,"y":5.0},
      {"s":"100","x":1,"y":0.15},{"s":"100","x":2,"y":0.7},{"s":"100","x":3,"y":1.4},{"s":"100","x":5,"y":1.95},{"s":"100","x":9,"y":2.2},{"s":"100","x":14,"y":2.05},{"s":"100","x":18,"y":1.8},{"s":"100","x":22,"y":1.32},{"s":"100","x":27,"y":1.25},{"s":"100","x":34,"y":1.42},{"s":"100","x":40,"y":1.48},{"s":"100","x":42,"y":1.35},{"s":"100","x":46,"y":2.2},{"s":"100","x":51,"y":2.45},{"s":"100","x":57,"y":2.97},{"s":"100","x":61,"y":2.55},{"s":"100","x":67,"y":1.62},{"s":"100","x":74,"y":1.45},{"s":"100","x":81,"y":1.42},{"s":"100","x":88,"y":1.25},{"s":"100","x":92,"y":1.2},{"s":"100","x":96,"y":1.72},{"s":"100","x":101,"y":1.85},{"s":"100","x":107,"y":1.6},{"s":"100","x":112,"y":1.78},{"s":"100","x":115,"y":2.0},{"s":"100","x":116,"y":3.1},{"s":"100","x":117,"y":4.5},
      {"s":"77","x":1,"y":0.35},{"s":"77","x":2,"y":1.2},{"s":"77","x":3,"y":1.9},{"s":"77","x":5,"y":2.3},{"s":"77","x":9,"y":2.55},{"s":"77","x":14,"y":2.4},{"s":"77","x":18,"y":2.1},{"s":"77","x":22,"y":1.57},{"s":"77","x":27,"y":1.5},{"s":"77","x":34,"y":1.67},{"s":"77","x":40,"y":1.73},{"s":"77","x":42,"y":1.6},{"s":"77","x":46,"y":2.03},{"s":"77","x":51,"y":2.35},{"s":"77","x":57,"y":2.87},{"s":"77","x":61,"y":2.45},{"s":"77","x":67,"y":1.72},{"s":"77","x":74,"y":1.55},{"s":"77","x":81,"y":1.52},{"s":"77","x":88,"y":1.35},{"s":"77","x":92,"y":1.3},{"s":"77","x":96,"y":1.62},{"s":"77","x":101,"y":1.75},{"s":"77","x":107,"y":1.5},{"s":"77","x":112,"y":1.68},{"s":"77","x":115,"y":2.2},{"s":"77","x":116,"y":4.1},{"s":"77","x":117,"y":6.4},
      {"s":"78","x":1,"y":0.1},{"s":"78","x":2,"y":0.6},{"s":"78","x":3,"y":1.3},{"s":"78","x":5,"y":1.95},{"s":"78","x":9,"y":2.2},{"s":"78","x":14,"y":2.05},{"s":"78","x":18,"y":1.8},{"s":"78","x":22,"y":1.5},{"s":"78","x":27,"y":1.48},{"s":"78","x":34,"y":1.47},{"s":"78","x":40,"y":1.53},{"s":"78","x":42,"y":1.4},{"s":"78","x":46,"y":1.73},{"s":"78","x":51,"y":2.05},{"s":"78","x":57,"y":2.57},{"s":"78","x":61,"y":2.15},{"s":"78","x":67,"y":1.57},{"s":"78","x":74,"y":1.4},{"s":"78","x":81,"y":1.37},{"s":"78","x":88,"y":1.2},{"s":"78","x":92,"y":1.15},{"s":"78","x":96,"y":1.57},{"s":"78","x":101,"y":1.7},{"s":"78","x":107,"y":1.45},{"s":"78","x":112,"y":1.63},{"s":"78","x":115,"y":1.85},{"s":"78","x":116,"y":2.7},{"s":"78","x":117,"y":3.6},
      {"s":"80","x":1,"y":0.05},{"s":"80","x":2,"y":0.5},{"s":"80","x":3,"y":1.2},{"s":"80","x":5,"y":1.8},{"s":"80","x":9,"y":2.0},{"s":"80","x":14,"y":1.85},{"s":"80","x":18,"y":1.65},{"s":"80","x":22,"y":1.52},{"s":"80","x":27,"y":1.45},{"s":"80","x":34,"y":1.62},{"s":"80","x":40,"y":1.68},{"s":"80","x":42,"y":1.55},{"s":"80","x":46,"y":1.73},{"s":"80","x":51,"y":2.05},{"s":"80","x":57,"y":2.45},{"s":"80","x":61,"y":2.35},{"s":"80","x":67,"y":1.72},{"s":"80","x":74,"y":1.55},{"s":"80","x":81,"y":1.52},{"s":"80","x":88,"y":1.35},{"s":"80","x":92,"y":1.3},{"s":"80","x":96,"y":1.62},{"s":"80","x":101,"y":1.75},{"s":"80","x":107,"y":1.5},{"s":"80","x":112,"y":1.68},{"s":"80","x":115,"y":2.0},{"s":"80","x":116,"y":3.3},{"s":"80","x":117,"y":4.6},
      {"s":"82","x":1,"y":0.15},{"s":"82","x":2,"y":0.7},{"s":"82","x":3,"y":1.4},{"s":"82","x":5,"y":2.02},{"s":"82","x":9,"y":2.26},{"s":"82","x":14,"y":2.12},{"s":"82","x":18,"y":1.86},{"s":"82","x":22,"y":1.4},{"s":"82","x":27,"y":1.32},{"s":"82","x":34,"y":1.5},{"s":"82","x":40,"y":1.56},{"s":"82","x":42,"y":1.43},{"s":"82","x":46,"y":1.92},{"s":"82","x":51,"y":2.26},{"s":"82","x":57,"y":2.78},{"s":"82","x":61,"y":2.36},{"s":"82","x":67,"y":1.6},{"s":"82","x":74,"y":1.42},{"s":"82","x":81,"y":1.4},{"s":"82","x":88,"y":1.22},{"s":"82","x":92,"y":1.16},{"s":"82","x":96,"y":1.64},{"s":"82","x":101,"y":1.78},{"s":"82","x":107,"y":1.52},{"s":"82","x":112,"y":1.7},{"s":"82","x":115,"y":2.02},{"s":"82","x":116,"y":3.5},{"s":"82","x":117,"y":5.4},
      {"s":"84","x":1,"y":0.1},{"s":"84","x":2,"y":0.6},{"s":"84","x":3,"y":1.3},{"s":"84","x":5,"y":2.0},{"s":"84","x":9,"y":2.25},{"s":"84","x":14,"y":2.1},{"s":"84","x":18,"y":1.85},{"s":"84","x":22,"y":1.17},{"s":"84","x":27,"y":1.1},{"s":"84","x":34,"y":1.27},{"s":"84","x":40,"y":1.33},{"s":"84","x":42,"y":1.07},{"s":"84","x":46,"y":1.68},{"s":"84","x":51,"y":2.0},{"s":"84","x":57,"y":2.52},{"s":"84","x":61,"y":2.1},{"s":"84","x":67,"y":1.52},{"s":"84","x":74,"y":1.35},{"s":"84","x":81,"y":1.32},{"s":"84","x":88,"y":1.15},{"s":"84","x":92,"y":1.1},{"s":"84","x":96,"y":1.47},{"s":"84","x":101,"y":1.6},{"s":"84","x":107,"y":1.35},{"s":"84","x":112,"y":1.53},{"s":"84","x":115,"y":1.9},{"s":"84","x":116,"y":2.9},{"s":"84","x":117,"y":4.2},
      {"s":"88","x":1,"y":0.2},{"s":"88","x":2,"y":0.8},{"s":"88","x":3,"y":1.4},{"s":"88","x":5,"y":1.75},{"s":"88","x":9,"y":1.95},{"s":"88","x":14,"y":1.75},{"s":"88","x":18,"y":1.6},{"s":"88","x":22,"y":1.17},{"s":"88","x":27,"y":1.1},{"s":"88","x":34,"y":1.27},{"s":"88","x":40,"y":1.33},{"s":"88","x":42,"y":1.2},{"s":"88","x":46,"y":1.93},{"s":"88","x":51,"y":2.25},{"s":"88","x":57,"y":2.77},{"s":"88","x":61,"y":2.35},{"s":"88","x":67,"y":1.67},{"s":"88","x":74,"y":1.5},{"s":"88","x":81,"y":1.47},{"s":"88","x":88,"y":1.3},{"s":"88","x":92,"y":1.25},{"s":"88","x":96,"y":1.67},{"s":"88","x":101,"y":1.8},{"s":"88","x":107,"y":1.55},{"s":"88","x":112,"y":1.73},{"s":"88","x":115,"y":2.0},{"s":"88","x":116,"y":3.0},{"s":"88","x":117,"y":4.4},
      {"s":"90","x":1,"y":0.1},{"s":"90","x":2,"y":0.6},{"s":"90","x":3,"y":1.3},{"s":"90","x":5,"y":1.92},{"s":"90","x":9,"y":2.16},{"s":"90","x":14,"y":2.04},{"s":"90","x":18,"y":1.8},{"s":"90","x":22,"y":1.36},{"s":"90","x":27,"y":1.28},{"s":"90","x":34,"y":1.46},{"s":"90","x":40,"y":1.52},{"s":"90","x":42,"y":1.4},{"s":"90","x":46,"y":1.86},{"s":"90","x":51,"y":2.2},{"s":"90","x":57,"y":2.76},{"s":"90","x":61,"y":2.3},{"s":"90","x":67,"y":1.56},{"s":"90","x":74,"y":1.38},{"s":"90","x":81,"y":1.36},{"s":"90","x":88,"y":1.19},{"s":"90","x":92,"y":1.14},{"s":"90","x":96,"y":1.6},{"s":"90","x":101,"y":1.74},{"s":"90","x":107,"y":1.48},{"s":"90","x":112,"y":1.66},{"s":"90","x":115,"y":1.96},{"s":"90","x":116,"y":3.1},{"s":"90","x":117,"y":4.6},
      {"s":"92","x":1,"y":0.4},{"s":"92","x":2,"y":1.3},{"s":"92","x":3,"y":2.0},{"s":"92","x":5,"y":2.4},{"s":"92","x":9,"y":2.6},{"s":"92","x":14,"y":2.45},{"s":"92","x":18,"y":2.15},{"s":"92","x":22,"y":1.62},{"s":"92","x":27,"y":1.55},{"s":"92","x":34,"y":1.72},{"s":"92","x":40,"y":1.78},{"s":"92","x":42,"y":1.65},{"s":"92","x":46,"y":2.08},{"s":"92","x":51,"y":2.4},{"s":"92","x":57,"y":2.92},{"s":"92","x":61,"y":2.5},{"s":"92","x":67,"y":1.77},{"s":"92","x":74,"y":1.6},{"s":"92","x":81,"y":1.57},{"s":"92","x":88,"y":1.4},{"s":"92","x":92,"y":1.35},{"s":"92","x":96,"y":1.72},{"s":"92","x":101,"y":1.85},{"s":"92","x":107,"y":1.6},{"s":"92","x":112,"y":1.78},{"s":"92","x":115,"y":2.3},{"s":"92","x":116,"y":3.9},{"s":"92","x":117,"y":5.9},
      {"s":"97","x":1,"y":0.1},{"s":"97","x":2,"y":0.55},{"s":"97","x":3,"y":1.25},{"s":"97","x":5,"y":1.9},{"s":"97","x":9,"y":2.15},{"s":"97","x":14,"y":2.0},{"s":"97","x":18,"y":1.75},{"s":"97","x":22,"y":1.47},{"s":"97","x":27,"y":1.4},{"s":"97","x":34,"y":1.57},{"s":"97","x":40,"y":1.63},{"s":"97","x":42,"y":1.5},{"s":"97","x":46,"y":1.78},{"s":"97","x":51,"y":2.1},{"s":"97","x":57,"y":2.62},{"s":"97","x":61,"y":2.2},{"s":"97","x":67,"y":1.52},{"s":"97","x":74,"y":1.35},{"s":"97","x":81,"y":1.32},{"s":"97","x":88,"y":1.15},{"s":"97","x":91,"y":1.1},{"s":"97","x":92,"y":0.67},{"s":"97","x":93,"y":1.12},{"s":"97","x":96,"y":1.57},{"s":"97","x":101,"y":1.7},{"s":"97","x":107,"y":1.45},{"s":"97","x":112,"y":1.63},{"s":"97","x":115,"y":1.95},{"s":"97","x":116,"y":3.4},{"s":"97","x":117,"y":4.9}
    ]
  },
  "layer": [
    {
      "data": {"name": "a"},
      "mark": {"type": "line", "strokeWidth": 1, "interpolate": "monotone"},
      "encoding": {
        "x": {
          "field": "x", "type": "quantitative",
          "scale": {"domain": [1, 117.6], "nice": false, "zero": false},
          "axis": {
            "title": null, "values": [1, 21, 41, 61, 81, 101], "format": ".2f",
            "grid": true, "gridColor": "#3c3c3c", "gridWidth": 1,
            "domain": false, "ticks": true, "tickColor": "#3c3c3c", "tickSize": 4,
            "labelFontSize": 9, "labelPadding": 2, "labelFlush": false
          }
        },
        "y": {
          "field": "y", "type": "quantitative",
          "scale": {"domain": [0, 8], "nice": false},
          "axis": {
            "title": null, "values": [0, 2, 4, 6, 8], "format": ".2f",
            "grid": true, "gridColor": "#a6a6a6", "gridWidth": 2,
            "domain": false, "ticks": true, "tickColor": "#a6a6a6", "tickWidth": 2, "tickSize": 9,
            "labelFontSize": 9.5, "labelPadding": 2
          }
        },
        "color": {
          "field": "s", "type": "nominal",
          "scale": {
            "domain": ["25","1","2","3","4","5","6","7","8","9","10","11","12","13","14","15","16","17","18","19","20","21","22","23","24","53","26","27","28","29","30","31","32","33","34","35","36","37","38","39","40","41","42","43","44","45","46","47","48","49"],
            "range": ["#5b9bd5","#f4b041","#e0633a","#2f7f93","#c8c8c8","#4d5d7a","#fde8a8","#4aaad8","#c98470","#2e6fd6","#fbdca8","#4a5878","#f5c0b8","#e39a30","#9ab0d0"]
          },
          "legend": {
            "title": null, "orient": "none", "legendX": 572, "legendY": -5.5,
            "padding": 0, "symbolType": "M-1.67,0H1.67", "symbolSize": 81, "symbolStrokeWidth": 2,
            "labelFontSize": 7.8, "labelColor": "#333333", "labelOffset": 8, "labelLimit": 0,
            "rowPadding": -0.2, "symbolLimit": 100,
            "labelExpr": "'Slide cierre ENSAYO ' + datum.label + '.VtiDat'"
          }
        }
      }
    },
    {
      "data": {"name": "b"},
      "mark": {"type": "line", "strokeWidth": 1, "interpolate": "monotone"},
      "encoding": {
        "x": {"field": "x", "type": "quantitative"},
        "y": {"field": "y", "type": "quantitative"},
        "stroke": {
          "field": "s", "type": "nominal",
          "scale": {
            "domain": ["50","51","52","72","73","74","75","54","55","56","57","58","59","60","61","62","63","64","65","66","67","68","69","70","71","100","76","77","78","79","80","81","82","83","84","85","86","87","88","89","90","91","92","93","94","95","96","97","98","99"],
            "range": ["#4d5d7a","#fde8a8","#4aaad8","#c98470","#2e6fd6","#fbdca8","#4a5878","#f5c0b8","#e39a30","#9ab0d0","#5b9bd5","#f4b041","#e0633a","#2f7f93","#c8c8c8"]
          },
          "legend": {
            "title": null, "orient": "none", "legendX": 709, "legendY": -5.5,
            "padding": 0, "symbolType": "M-1.67,0H1.67", "symbolSize": 81, "symbolStrokeWidth": 2,
            "labelFontSize": 7.8, "labelColor": "#333333", "labelOffset": 8, "labelLimit": 0,
            "rowPadding": -0.2, "symbolLimit": 100,
            "labelExpr": "'Slide cierre ENSAYO ' + datum.label + '.VtiDat'"
          }
        }
      }
    },
    {
      "data": {"values": [{"y": 6.07}]},
      "mark": {"type": "rule", "color": "#e0303a", "strokeWidth": 1, "strokeDash": [3, 2]},
      "encoding": {"y": {"field": "y", "type": "quantitative"}}
    },
    {
      "data": {"values": [{"x": 87.9}]},
      "mark": {"type": "rule", "color": "#e0303a", "strokeWidth": 1, "strokeDash": [3, 2]},
      "encoding": {"x": {"field": "x", "type": "quantitative"}}
    }
  ]
}
